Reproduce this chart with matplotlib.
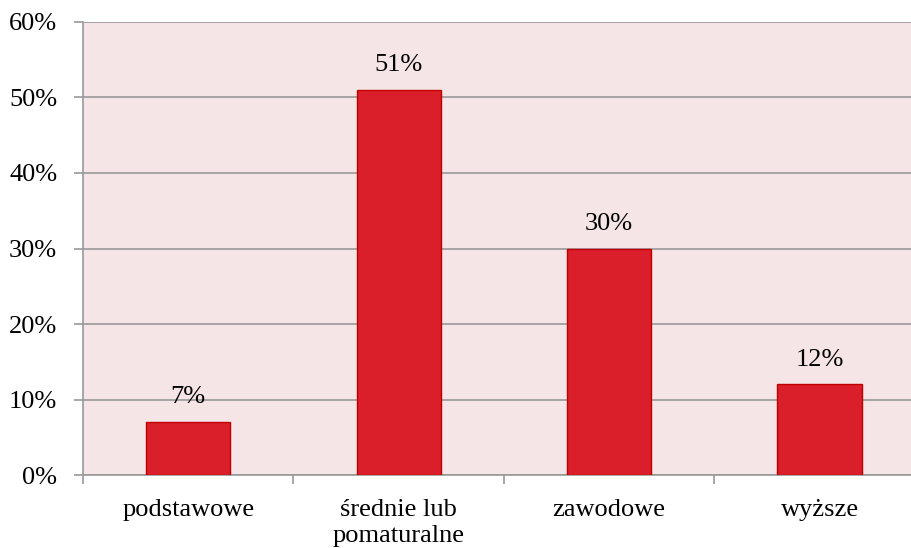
import matplotlib.pyplot as plt
from matplotlib.ticker import FixedLocator, NullFormatter

categories = ["podstawowe", "średnie lub\npomaturalne", "zawodowe", "wyższe"]
values = [7, 51, 30, 12]
y_ticks = [0, 10, 20, 30, 40, 50, 60]

plt.rcParams["font.family"] = ["Liberation Serif", "DejaVu Serif"]

fig = plt.figure(figsize=(9.12, 5.48), dpi=100)
ax = fig.add_axes([0.091, 0.133, 0.923, 0.827])
ax.set_facecolor("#f6e5e7")

x = list(range(len(categories)))
ax.bar(x, values, width=0.4, color="#da1f2b", edgecolor="#c00000", linewidth=1, zorder=3)
for xi, v in zip(x, values):
    ax.text(xi, v + 3.3, f"{v}%", ha="center", va="center", fontsize=19, zorder=4)

ax.set_xlim(-0.5, len(categories) - 0.5)
ax.set_ylim(0, 60)
ax.set_yticks(y_ticks)
ax.set_yticklabels([f"{t}%" for t in y_ticks], fontsize=19)
ax.yaxis.grid(True, color="#999999", linewidth=1.2, zorder=0)

ax.set_xticks(x)
ax.set_xticklabels(categories, fontsize=19, linespacing=1.25)
ax.tick_params(axis="x", which="major", length=0, pad=17)
ax.xaxis.set_minor_locator(FixedLocator([i - 0.5 for i in range(len(categories) + 1)]))
ax.xaxis.set_minor_formatter(NullFormatter())
ax.tick_params(axis="x", which="minor", length=6.5, color="#999999", width=1.2)
ax.tick_params(axis="y", length=6.5, color="#999999", width=1.2, pad=12)

for s in ["top", "right"]:
    ax.spines[s].set_visible(False)
for s in ["left", "bottom"]:
    ax.spines[s].set_color("#999999")
    ax.spines[s].set_linewidth(1.2)

fig.savefig("out.png", dpi=100)
